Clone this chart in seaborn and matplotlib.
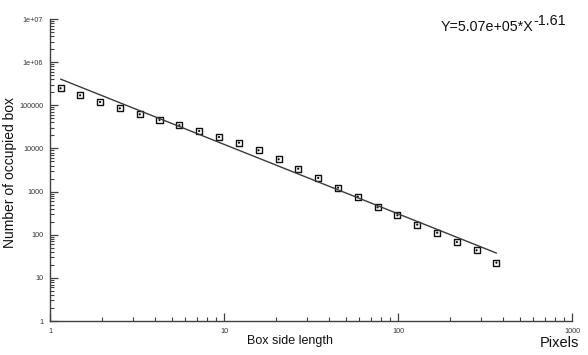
import numpy as np
import pandas as pd
import matplotlib
matplotlib.use("Agg")
import matplotlib.pyplot as plt
import seaborn as sns
from matplotlib.ticker import FixedLocator, FixedFormatter, LogLocator, NullFormatter

# ---- data ----
box_size = [1.15, 1.49, 1.94, 2.52, 3.28, 4.26, 5.54, 7.2, 9.36, 12.2, 15.8, 20.6,
            26.7, 34.8, 45.2, 58.7, 76.3, 99.2, 129, 168, 218, 283, 368]
occupied = [248000, 170600, 119000, 85200, 61800, 45600, 34400, 25400, 18400, 13600,
            9060, 5600, 3390, 2070, 1230, 760, 432, 282, 171, 111, 67.8, 43.5, 22.5]
fit_coef = 5.07e5
fit_exp = -1.61
y_ticks = [1, 10, 100, 1000, 10000, 100000, 1e6, 1e7]
y_tick_labels = ["1", "10", "100", "1000", "10000", "100000", "1e+06", "1e+07"]
x_ticks = [1, 10, 100, 1000]
x_tick_labels = ["1", "10", "100", "1000"]

sns.set_theme(style="white")
plt.rcParams['font.family'] = ['Liberation Sans', 'DejaVu Sans']

fig = plt.figure(figsize=(5.88, 3.55), dpi=100)
ax = fig.add_axes([50/588, 1-321/355, (572-50)/588, (321-19)/355])

df = pd.DataFrame({"x": box_size, "y": occupied})
fit_x = [box_size[0], box_size[-1]]
fit_df = pd.DataFrame({"x": fit_x, "y": [fit_coef * v ** fit_exp for v in fit_x]})

sns.lineplot(data=fit_df, x="x", y="y", ax=ax, color="#3a3a3a", linewidth=1.0)
sns.scatterplot(data=df, x="x", y="y", ax=ax, marker="s", s=19,
                facecolor="none", edgecolor="#111111", linewidth=1.0)
sns.scatterplot(data=df, x="x", y="y", ax=ax, marker="o", s=2.5,
                color="#111111", edgecolor="none")

ax.set_xscale("log")
ax.set_yscale("log")
ax.set_xlim(1, 1000)
ax.set_ylim(1, 1e7)

ax.yaxis.set_major_locator(FixedLocator(y_ticks))
ax.yaxis.set_major_formatter(FixedFormatter(y_tick_labels))
ax.xaxis.set_major_locator(FixedLocator(x_ticks))
ax.xaxis.set_major_formatter(FixedFormatter(x_tick_labels))
ax.yaxis.set_minor_locator(LogLocator(base=10, subs=np.arange(2, 10), numticks=20))
ax.xaxis.set_minor_locator(LogLocator(base=10, subs=np.arange(2, 10), numticks=20))
ax.yaxis.set_minor_formatter(NullFormatter())
ax.xaxis.set_minor_formatter(NullFormatter())

for side in ["top", "right"]:
    ax.spines[side].set_visible(False)
for side in ["left", "bottom"]:
    ax.spines[side].set_color("#404040")
    ax.spines[side].set_linewidth(1.0)

ax.tick_params(which="major", direction="in", length=6, width=0.9, color="#404040",
               labelsize=5.2, labelcolor="#333333", pad=5, left=True, bottom=True)
ax.tick_params(which="minor", direction="in", length=3, width=0.8, color="#404040",
               left=True, bottom=True)

ax.set_xlabel("")
ax.set_ylabel("")
fig.text(290/588, 1-341/355, "Box side length", ha="center", va="center",
         fontsize=9, color="#111111")
fig.text(10/588, 1-172/355, "Number of occupied box", ha="center", va="center",
         rotation=90, fontsize=10, color="#111111")
fig.text(579/588, 1-343/355, "Pixels", ha="right", va="center",
         fontsize=10.5, color="#111111")
main_eq = fig.text(441/588, 1-27/355, "Y=5.07e+05*X", ha="left", va="center",
                   fontsize=10.3, color="#111111")
ax.annotate("-1.61", xy=(1.0, 0.45), xycoords=main_eq, ha="left", va="bottom",
            fontsize=10.3, color="#111111", annotation_clip=False)

fig.savefig("out.png", dpi=100, facecolor="white")
